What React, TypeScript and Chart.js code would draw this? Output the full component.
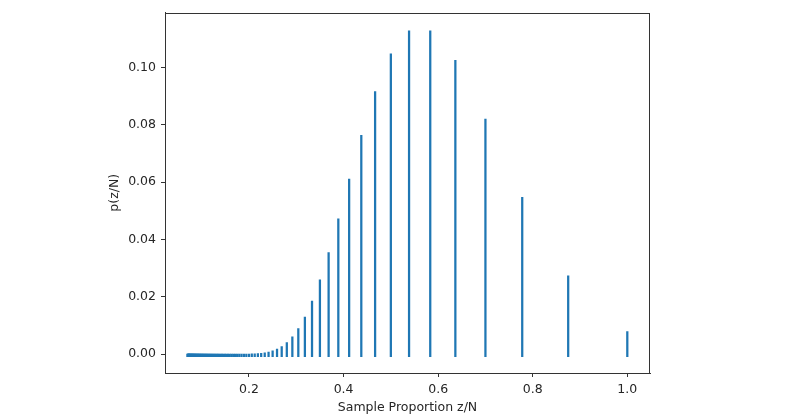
import React, { useEffect, useRef } from "react";
import { Chart, registerables } from "chart.js";

Chart.register(...registerables);

// Sample proportion z/N (z = 7, N = 7..100)
const proportions: number[] = [
  1.0, 0.875, 0.7778, 0.7, 0.6364, 0.5833, 0.5385, 0.5, 0.4667, 0.4375,
  0.4118, 0.3889, 0.3684, 0.35, 0.3333, 0.3182, 0.3043, 0.2917, 0.28, 0.2692,
  0.2593, 0.25, 0.2414, 0.2333, 0.2258, 0.2188, 0.2121, 0.2059, 0.2, 0.1944,
  0.1892, 0.1842, 0.1795, 0.175, 0.1707, 0.1667, 0.1628, 0.1591, 0.1556, 0.1522,
  0.1489, 0.1458, 0.1429, 0.14, 0.1373, 0.1346, 0.1321, 0.1296, 0.1273, 0.125,
  0.1228, 0.1207, 0.1186, 0.1167, 0.1148, 0.1129, 0.1111, 0.1094, 0.1077, 0.1061,
  0.1045, 0.1029, 0.1014, 0.1, 0.0986, 0.0972, 0.0959, 0.0946, 0.0933, 0.0921,
  0.0909, 0.0897, 0.0886, 0.0875, 0.0864, 0.0854, 0.0843, 0.0833, 0.0824, 0.0814,
  0.0805, 0.0795, 0.0787, 0.0778, 0.0769, 0.0761, 0.0753, 0.0745, 0.0737, 0.0729,
  0.0722, 0.0714, 0.0707, 0.07,
];

// p(z/N)
const probabilities: number[] = [
  0.0078125, 0.02734375, 0.0546875, 0.08203125, 0.10253906, 0.11279297, 0.11279297, 0.10473633, 0.09164429, 0.07637024,
  0.06109619, 0.04721069, 0.03540802, 0.02587461, 0.01848221, 0.01293755, 0.00889456, 0.00601691, 0.00401139, 0.002639,
  0.00171535, 0.00110272, 0.00070173, 0.0004424, 0.0002765, 0.00017143, 0.00010549, 0.00006447, 0.00003914, 0.00002362,
  0.00001417, 0.00000846, 0.00000502, 0.00000297, 0.00000174, 0.00000102, 0.0000006, 0.00000035, 0.0000002, 0.00000012,
  0.00000007, 0.00000004, 0.00000002, 0.00000001, 0.00000001, 0, 0, 0, 0, 0,
  0, 0, 0, 0, 0, 0, 0, 0, 0, 0,
  0, 0, 0, 0, 0, 0, 0, 0, 0, 0,
  0, 0, 0, 0, 0, 0, 0, 0, 0, 0,
  0, 0, 0, 0, 0, 0, 0, 0, 0, 0,
  0, 0, 0, 0,
];

const xTickValues: number[] = [0.2, 0.4, 0.6, 0.8, 1.0];
const yTickValues: number[] = [0, 0.02, 0.04, 0.06, 0.08, 0.1];

const FONT = "'DejaVu Sans', sans-serif";
const TEXT = "#262626";
const SPINE = "#333333";

const frame = {
  id: "frame",
  afterDraw(chart: any) {
    const { ctx, chartArea } = chart;
    ctx.save();
    ctx.strokeStyle = SPINE;
    ctx.lineWidth = 1;
    ctx.strokeRect(
      Math.round(chartArea.left) + 0.5,
      Math.round(chartArea.top) + 0.5,
      Math.round(chartArea.right - chartArea.left) - 1,
      Math.round(chartArea.bottom - chartArea.top) - 1
    );
    ctx.restore();
  },
};

export default function App() {
  const ref = useRef<HTMLCanvasElement | null>(null);

  useEffect(() => {
    document.body.style.margin = "0";
    const data = proportions.map((x, i) => ({ x, y: probabilities[i] }));
    const chart = new Chart(ref.current as HTMLCanvasElement, {
      type: "bar",
      data: {
        datasets: [
          {
            data: data as any,
            backgroundColor: "#1f77b4",
            borderWidth: 0,
            barThickness: 1.6,
            base: -0.0009,
            minBarLength: 2.5,
          } as any,
        ],
      },
      plugins: [frame],
      options: {
        animation: false,
        responsive: true,
        maintainAspectRatio: false,
        layout: { padding: { top: 12, right: 150, left: 0, bottom: 0 } },
        plugins: { legend: { display: false }, tooltip: { enabled: false } },
        scales: {
          x: {
            type: "linear",
            min: 0.0224,
            max: 1.048,
            offset: false,
            afterFit(s: any) {
              s.height = 46;
            },
            afterBuildTicks(s: any) {
              s.ticks = xTickValues.map((v) => ({ value: v }));
            },
            grid: {
              offset: false,
              drawOnChartArea: false,
              drawTicks: true,
              tickLength: 4,
              tickColor: SPINE,
            },
            border: { display: true, color: SPINE },
            ticks: {
              padding: 5,
              color: TEXT,
              font: { family: FONT, size: 12.5 },
              maxRotation: 0,
              callback: (v: any) => Number(v).toFixed(1),
            },
            title: {
              display: true,
              text: "Sample Proportion z/N",
              color: TEXT,
              font: { family: FONT, size: 12.5 },
              padding: { top: 0, bottom: 3.5 },
            },
          },
          y: {
            type: "linear",
            min: -0.0066,
            max: 0.1192,
            afterFit(s: any) {
              s.width = 165;
            },
            afterBuildTicks(s: any) {
              s.ticks = yTickValues.map((v) => ({ value: v }));
            },
            grid: {
              drawOnChartArea: false,
              drawTicks: true,
              tickLength: 4,
              tickColor: SPINE,
            },
            border: { display: true, color: SPINE },
            ticks: {
              padding: 5,
              color: TEXT,
              font: { family: FONT, size: 12.5 },
              callback: (v: any) => Number(v).toFixed(2),
            },
            title: {
              display: true,
              text: "p(z/N)",
              color: TEXT,
              font: { family: FONT, size: 12.5 },
              padding: { top: 107, bottom: 0 },
            },
          },
        },
      },
    });
    return () => chart.destroy();
  }, []);

  return (
    <div style={{ width: 800, height: 419, position: "relative", background: "#fff" }}>
      <canvas ref={ref} />
    </div>
  );
}
